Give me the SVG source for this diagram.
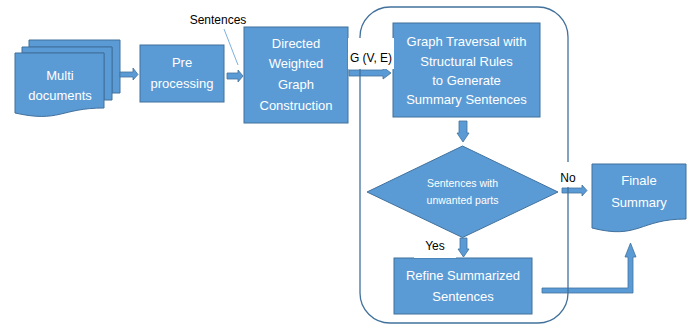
<svg xmlns="http://www.w3.org/2000/svg" width="689" height="324" viewBox="0 0 689 324">
<style>
.shape{fill:#5B9BD5;stroke:#41719C;stroke-width:1}
.arrow{fill:#5B9BD5;stroke:#41719C;stroke-width:0.8}
.wt{font-family:"Liberation Sans",Arial,sans-serif;font-size:13px;fill:#FFFFFF;text-anchor:middle}
.sm{font-size:10.5px}
.lbl{font-family:"Liberation Sans",Arial,sans-serif;font-size:12px;fill:#000000;text-anchor:middle}
.bg{fill:#FFFFFF;stroke:none}
.cont{fill:none;stroke:#41719C;stroke-width:1.3}
</style>
<rect width="689" height="324" fill="#FFFFFF"/>

<g id="multi-documents">
  <path class="shape" d="M29,40 H120 V93 H112 V47 H29 Z"/>
  <path class="shape" d="M22,47 H112 V100 H104 V53 H22 Z"/>
  <path class="shape" d="M15,53 H104 V108 C60,108 60,123 15,113 Z"/>
  <text class="wt" x="60" y="79.5">Multi</text>
  <text class="wt" x="60" y="99.5">documents</text>
</g>

<g id="preprocessing">
  <rect class="shape" x="140" y="45" width="84" height="57"/>
  <text class="wt" x="182" y="66.5">Pre</text>
  <text class="wt" x="182" y="87.5">processing</text>
</g>

<g id="graph-construction">
  <rect class="shape" x="244" y="27" width="104" height="96"/>
  <text class="wt" x="296" y="47.5">Directed</text>
  <text class="wt" x="296" y="67.5">Weighted</text>
  <text class="wt" x="296" y="88.5">Graph</text>
  <text class="wt" x="296" y="109.5">Construction</text>
</g>

<g id="graph-traversal">
  <rect class="shape" x="393" y="23" width="147" height="94"/>
  <text class="wt" x="466.5" y="45.5">Graph Traversal with</text>
  <text class="wt" x="466.5" y="65.5">Structural Rules</text>
  <text class="wt" x="466.5" y="84.5">to Generate</text>
  <text class="wt" x="466.5" y="103.5">Summary Sentences</text>
</g>

<g id="decision">
  <polygon class="shape" points="462.5,146 558,192 462.5,237.5 367,192"/>
  <text class="wt sm" x="462.5" y="187">Sentences with</text>
  <text class="wt sm" x="462.5" y="204">unwanted parts</text>
</g>

<g id="refine">
  <rect class="shape" x="394" y="258" width="138" height="56"/>
  <text class="wt" x="463" y="279.5">Refine Summarized</text>
  <text class="wt" x="463" y="300.5">Sentences</text>
</g>

<g id="finale-summary">
  <path class="shape" d="M592,164 H686 V219 C639,219 639,240 592,228 Z"/>
  <text class="wt" x="639" y="184.5">Finale</text>
  <text class="wt" x="639" y="206.5">Summary</text>
</g>

<g id="connectors">
  <path class="arrow" d="M120,72 H133 V68 L138,74.5 L133,80 V77 H120 Z"/>
  <path class="arrow" d="M227,73 H238 V70 L243,76 L238,82 V79 H227 Z"/>
  <line x1="224" y1="29" x2="238" y2="65" stroke="#5B9BD5" stroke-width="0.8"/>
  <path class="arrow" d="M349,70 H383 V67 L391,73 L383,79 V76 H349 Z"/>
  <path class="arrow" d="M459,121 H467 V133 H469 L463,142 L457,133 H459 Z"/>
  <path class="arrow" d="M460,238 H467 V249 H469 L463.5,257 L458,249 H460 Z"/>
  <path class="arrow" d="M562,188 H582 V185 L587,190.5 L582,196 V193 H562 Z"/>
  <path class="arrow" d="M542,288 H628 V257 H625 L630.5,243 L636,257 H633 V293 H542 Z"/>
</g>

<g id="loop-container">
  <rect class="cont" x="360" y="7" width="208" height="316" rx="30" ry="30"/>
</g>

<g id="labels">
  <text class="lbl" x="218" y="24">Sentences</text>
  <rect class="bg" x="348" y="38" width="46" height="31"/>
  <text class="lbl" x="371" y="62">G (V, E)</text>
  <rect class="bg" x="556" y="162" width="24" height="25"/>
  <text class="lbl" x="568" y="182">No</text>
  <rect class="bg" x="414" y="239" width="42" height="19"/>
  <text class="lbl" x="435" y="250">Yes</text>
</g>
</svg>
